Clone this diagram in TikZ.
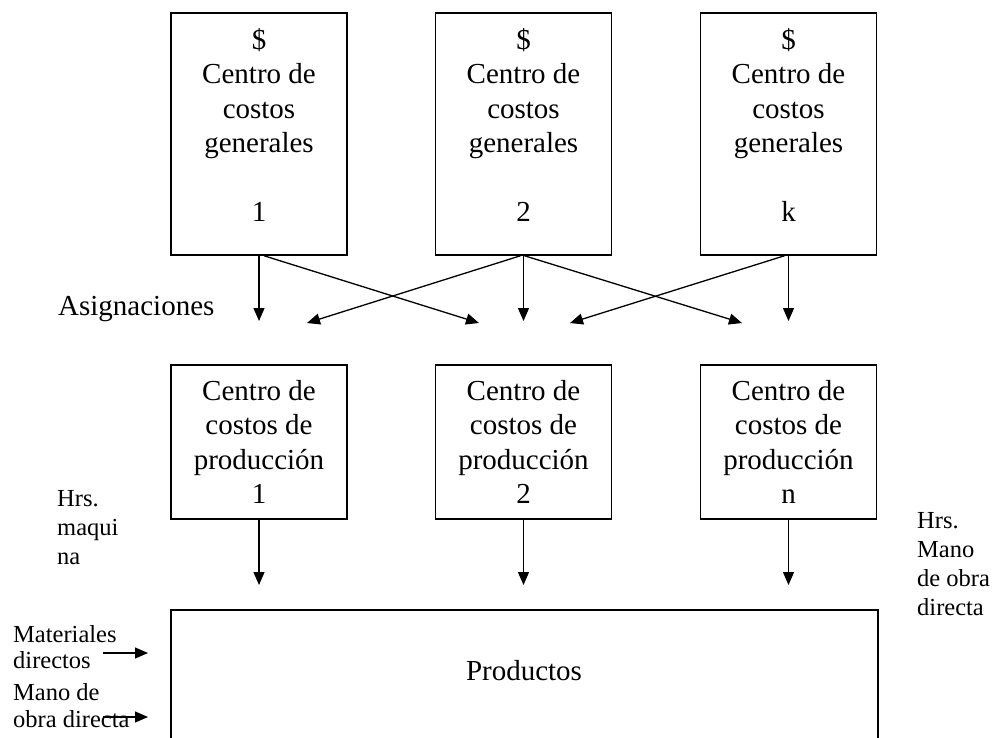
\documentclass[tikz,border=0pt]{standalone}
\usepackage{fontspec}
\setmainfont{Liberation Serif}
\usetikzlibrary{arrows.meta,calc}
\begin{document}
\begin{tikzpicture}[x=1pt,y=-1pt,
  box/.style={draw,line width=1.5pt,minimum width=176pt,inner sep=0pt},
  txt/.style={inner sep=0pt,align=center,font=\fontsize{29}{34.4}\selectfont},
  lbl/.style={inner sep=0pt,align=left,anchor=west,font=\fontsize{24.5}{29}\selectfont},
  lbls/.style={lbl,font=\fontsize{24.5}{26.6}\selectfont},
  arr/.style={line width=1.3pt,-{Triangle[length=13pt,width=11pt]}}
]
\useasboundingbox (0,0) rectangle (994,737);

% top boxes
\node[box,minimum height=242pt] (g1) at (259,134) {};
\node[box,minimum height=242pt] (g2) at (523.5,134) {};
\node[box,minimum height=242pt] (gk) at (788.5,134) {};
\node[txt] (g1t) at (259,125) {\$\\Centro de\\costos\\generales\\[34.4pt]1};
\node[txt] (g2t) at (523.5,125) {\$\\Centro de\\costos\\generales\\[34.4pt]2};
\node[txt] (gkt) at (788.5,125) {\$\\Centro de\\costos\\generales\\[34.4pt]k};

% middle boxes
\node[box,txt,minimum width=176pt,minimum height=154pt] (p1) at (259,442) {Centro de\\costos de\\producción\\1};
\node[box,txt,minimum width=176pt,minimum height=154pt] (p2) at (523.5,442) {Centro de\\costos de\\producción\\2};
\node[box,txt,minimum width=176pt,minimum height=154pt] (pn) at (788.5,442) {Centro de\\costos de\\producción\\n};

% products box (bottom edge lies below the picture)
\node[box,minimum width=707pt,minimum height=160pt] (prod) at (524.5,690) {};
\node[txt,anchor=base] (prodt) at (524,680) {Productos};

% labels
\node[lbl,anchor=base west,font=\fontsize{29}{34.4}\selectfont] (asig) at (58,315) {Asignaciones};
\node[lbl] (hm) at (57,528) {Hrs.\\maqui\\na};
\node[lbl] (hmo) at (917,564) {Hrs.\\Mano\\de obra\\directa};
\node[lbls] (mat) at (13,647) {Materiales\\directos};
\node[lbls] (mod) at (13,705.5) {Mano de\\obra directa};

% arrow end points
\coordinate (t1) at (259,321);
\coordinate (t2) at (523.5,321);
\coordinate (t3) at (788.5,321);
\coordinate (d1) at (479,323);
\coordinate (d2) at (307,323);
\coordinate (d3) at (742,323);
\coordinate (d4) at (570,323);
\coordinate (b1) at (259,585);
\coordinate (b2) at (523.5,585);
\coordinate (b3) at (788.5,585);
\coordinate (ma0) at (103,653);
\coordinate (ma1) at (148,653);
\coordinate (mo0) at (103,717);
\coordinate (mo1) at (148,717);

% allocations
\draw[arr] (g1.south) -- (t1);
\draw[arr] ($(g1.south)+(5,0)$) -- (d1);
\draw[arr] ($(g2.south)+(-3,0)$) -- (d2);
\draw[arr] (g2.south) -- (t2);
\draw[arr] ($(g2.south)+(1,0)$) -- (d3);
\draw[arr] ($(gk.south)+(-4,0)$) -- (d4);
\draw[arr] (gk.south) -- (t3);

% production to products
\draw[arr] (p1.south) -- (b1);
\draw[arr] (p2.south) -- (b2);
\draw[arr] (pn.south) -- (b3);

% direct inputs
\draw[arr] (ma0) -- (ma1);
\draw[arr] (mo0) -- (mo1);
\end{tikzpicture}
\end{document}
